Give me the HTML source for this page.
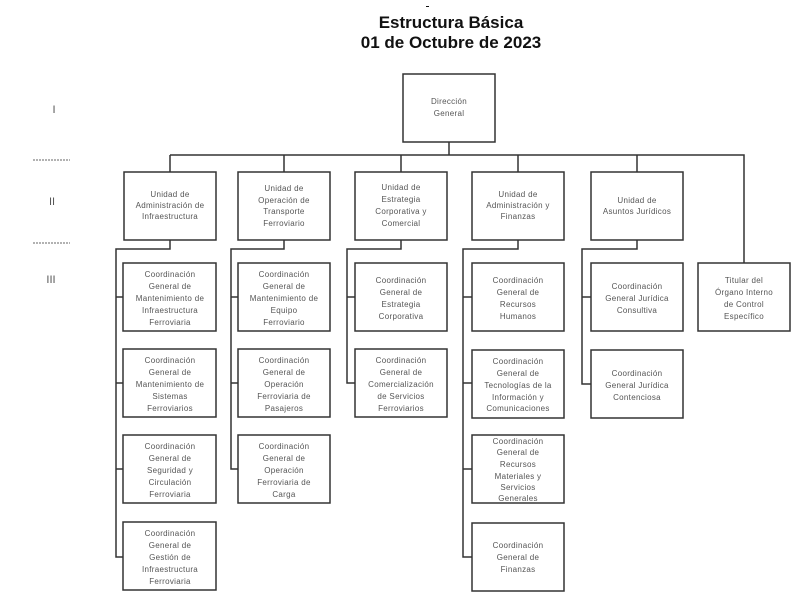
<!DOCTYPE html>
<html><head><meta charset="utf-8"><style>
html,body{margin:0;padding:0;background:#fff;}
svg{display:block;}
.t{font-family:"Liberation Sans",Arial,sans-serif;font-size:8px;fill:#555;text-anchor:middle;letter-spacing:0.3px;}
.h{font-family:"Liberation Sans",Arial,sans-serif;font-size:17px;font-weight:bold;fill:#111;text-anchor:middle;letter-spacing:0px;}
.l{font-family:"Liberation Sans",Arial,sans-serif;font-size:11px;fill:#555;text-anchor:middle;}
rect{fill:#fff;stroke:#333;stroke-width:1.5;}
.c{stroke:#333;stroke-width:1.5;fill:none;}
</style></head><body>
<svg width="802" height="609" viewBox="0 0 802 609">
<rect x="426" y="6" width="3" height="1" style="fill:#111;stroke:none"/>
<text class="h" x="451" y="28">Estructura Básica</text>
<text class="h" x="451" y="48">01 de Octubre de 2023</text>

<text class="l" x="54" y="113">I</text>
<text class="l" x="52" y="205">II</text>
<text class="l" x="51" y="283">III</text>
<line x1="33" y1="160" x2="70" y2="160" stroke="#666" stroke-width="1" stroke-dasharray="2,1"/>
<line x1="33" y1="243" x2="70" y2="243" stroke="#666" stroke-width="1" stroke-dasharray="2,1"/>

<path class="c" d="M449 142V155M170 155H744V263"/>
<path class="c" d="M170 155V172M284 155V172M401 155V172M518 155V172M637 155V172"/>
<path class="c" d="M170 240V249H116V557H123M116 297H123M116 383H123M116 469H123"/>
<path class="c" d="M284 240V249H231V469H238M231 297H238M231 383H238"/>
<path class="c" d="M401 240V249H347V383H355M347 297H355"/>
<path class="c" d="M518 240V249H463V557H472M463 297H472M463 383H472M463 469H472"/>
<path class="c" d="M637 240V249H582V384H591M582 297H591"/>

<rect x="403" y="74" width="92" height="68"/>
<text class="t" x="449" y="104">Dirección</text><text class="t" x="449" y="116">General</text>

<rect x="124" y="172" width="92" height="68"/>
<text class="t" x="170" y="197">Unidad de</text><text class="t" x="170" y="208">Administración de</text><text class="t" x="170" y="219">Infraestructura</text>
<rect x="238" y="172" width="92" height="68"/>
<text class="t" x="284" y="191">Unidad de</text><text class="t" x="284" y="203">Operación de</text><text class="t" x="284" y="214">Transporte</text><text class="t" x="284" y="226">Ferroviario</text>
<rect x="355" y="172" width="92" height="68"/>
<text class="t" x="401" y="190">Unidad de</text><text class="t" x="401" y="202">Estrategia</text><text class="t" x="401" y="214">Corporativa y</text><text class="t" x="401" y="226">Comercial</text>
<rect x="472" y="172" width="92" height="68"/>
<text class="t" x="518" y="197">Unidad de</text><text class="t" x="518" y="208">Administración y</text><text class="t" x="518" y="219">Finanzas</text>
<rect x="591" y="172" width="92" height="68"/>
<text class="t" x="637" y="203">Unidad de</text><text class="t" x="637" y="214">Asuntos Jurídicos</text>

<rect x="123" y="263" width="93" height="68"/>
<text class="t" x="170" y="277">Coordinación</text><text class="t" x="170" y="289">General de</text><text class="t" x="170" y="301">Mantenimiento de</text><text class="t" x="170" y="313">Infraestructura</text><text class="t" x="170" y="325">Ferroviaria</text>
<rect x="123" y="349" width="93" height="68"/>
<text class="t" x="170" y="363">Coordinación</text><text class="t" x="170" y="375">General de</text><text class="t" x="170" y="387">Mantenimiento de</text><text class="t" x="170" y="399">Sistemas</text><text class="t" x="170" y="411">Ferroviarios</text>
<rect x="123" y="435" width="93" height="68"/>
<text class="t" x="170" y="449">Coordinación</text><text class="t" x="170" y="461">General de</text><text class="t" x="170" y="473">Seguridad y</text><text class="t" x="170" y="485">Circulación</text><text class="t" x="170" y="497">Ferroviaria</text>
<rect x="123" y="522" width="93" height="68"/>
<text class="t" x="170" y="536">Coordinación</text><text class="t" x="170" y="548">General de</text><text class="t" x="170" y="560">Gestión de</text><text class="t" x="170" y="572">Infraestructura</text><text class="t" x="170" y="584">Ferroviaria</text>

<rect x="238" y="263" width="92" height="68"/>
<text class="t" x="284" y="277">Coordinación</text><text class="t" x="284" y="289">General de</text><text class="t" x="284" y="301">Mantenimiento de</text><text class="t" x="284" y="313">Equipo</text><text class="t" x="284" y="325">Ferroviario</text>
<rect x="238" y="349" width="92" height="68"/>
<text class="t" x="284" y="363">Coordinación</text><text class="t" x="284" y="375">General de</text><text class="t" x="284" y="387">Operación</text><text class="t" x="284" y="399">Ferroviaria de</text><text class="t" x="284" y="411">Pasajeros</text>
<rect x="238" y="435" width="92" height="68"/>
<text class="t" x="284" y="449">Coordinación</text><text class="t" x="284" y="461">General de</text><text class="t" x="284" y="473">Operación</text><text class="t" x="284" y="485">Ferroviaria de</text><text class="t" x="284" y="497">Carga</text>

<rect x="355" y="263" width="92" height="68"/>
<text class="t" x="401" y="283">Coordinación</text><text class="t" x="401" y="295">General de</text><text class="t" x="401" y="307">Estrategia</text><text class="t" x="401" y="319">Corporativa</text>
<rect x="355" y="349" width="92" height="68"/>
<text class="t" x="401" y="363">Coordinación</text><text class="t" x="401" y="375">General de</text><text class="t" x="401" y="387">Comercialización</text><text class="t" x="401" y="399">de Servicios</text><text class="t" x="401" y="411">Ferroviarios</text>

<rect x="472" y="263" width="92" height="68"/>
<text class="t" x="518" y="283">Coordinación</text><text class="t" x="518" y="295">General de</text><text class="t" x="518" y="307">Recursos</text><text class="t" x="518" y="319">Humanos</text>
<rect x="472" y="350" width="92" height="68"/>
<text class="t" x="518" y="364">Coordinación</text><text class="t" x="518" y="376">General de</text><text class="t" x="518" y="388">Tecnologías de la</text><text class="t" x="518" y="400">Información y</text><text class="t" x="518" y="411">Comunicaciones</text>
<rect x="472" y="435" width="92" height="68"/>
<text class="t" x="518" y="444">Coordinación</text><text class="t" x="518" y="455">General de</text><text class="t" x="518" y="467">Recursos</text><text class="t" x="518" y="479">Materiales y</text><text class="t" x="518" y="490">Servicios</text><text class="t" x="518" y="501">Generales</text>
<rect x="472" y="523" width="92" height="68"/>
<text class="t" x="518" y="548">Coordinación</text><text class="t" x="518" y="560">General de</text><text class="t" x="518" y="572">Finanzas</text>

<rect x="591" y="263" width="92" height="68"/>
<text class="t" x="637" y="289">Coordinación</text><text class="t" x="637" y="301">General Jurídica</text><text class="t" x="637" y="313">Consultiva</text>
<rect x="591" y="350" width="92" height="68"/>
<text class="t" x="637" y="376">Coordinación</text><text class="t" x="637" y="388">General Jurídica</text><text class="t" x="637" y="400">Contenciosa</text>

<rect x="698" y="263" width="92" height="68"/>
<text class="t" x="744" y="283">Titular del</text><text class="t" x="744" y="295">Órgano Interno</text><text class="t" x="744" y="307">de Control</text><text class="t" x="744" y="319">Específico</text>
</svg>
</body></html>
